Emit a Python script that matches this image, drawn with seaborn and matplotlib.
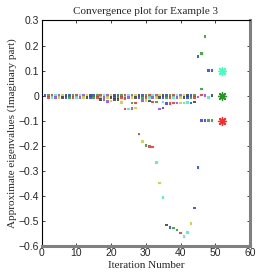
import matplotlib
matplotlib.use('Agg')
import matplotlib.pyplot as plt
import seaborn as sns
import pandas as pd

# colour letters -> rgb used in the picture
palette = {'b': '#2a3cff', 'g': '#22a022', 'r': '#ff2424', 'c': '#3cf0c0',
           'm': '#a03cff', 'y': '#c8d21e', 'k': '#3c3c3c'}

# dots sitting on zero
top_iter = list(range(1, 45))
top_val = [0.0] * 44
top_col = list("bgrcmykbgrcmykbgrcmykbgrcmykbgrcmykbgrcmykbg")

second_iter = list(range(2, 45))
second_val = [-0.007] * 43
second_col = list("rcmykbgrcmykbgrcmykbgrcmykbgrcmykbgrcmykbgr")

# small drift below zero
drift_iter = [17, 18, 19, 20, 21, 22, 23, 24, 24, 25, 26, 26, 27, 27, 29, 30, 31, 32,
              33, 34, 35, 35, 36, 37, 38, 39, 40, 41, 42, 43, 44]
drift_val = [-0.015, -0.018, -0.024, -0.022, -0.016, -0.016, -0.028, -0.053, -0.012,
             -0.053, -0.052, -0.03, -0.05, -0.03, -0.02, -0.02, -0.022, -0.025, -0.025,
             -0.053, -0.05, -0.025, -0.032, -0.032, -0.03, -0.03, -0.03, -0.03, -0.028,
             -0.03, -0.025]
drift_col = list("kgmykkyrrcmgyrmykrgmbcbrrmyccbk")

# branch going down to -0.56
branch_iter = [28, 29, 30, 31, 32, 33, 34, 35, 36, 37, 38, 39, 40, 41, 42, 43, 44, 45]
branch_val = [-0.153, -0.183, -0.2, -0.203, -0.206, -0.267, -0.35, -0.407, -0.517,
              -0.527, -0.53, -0.537, -0.55, -0.563, -0.547, -0.511, -0.449, -0.288]
branch_col = list("rygrrcyckbggrccybb")

# last iterations
late_iter = [45, 46, 47, 46, 48, 49, 46, 47, 48, 49, 45, 46, 47, 48, 49]
late_val = [0.156, 0.167, 0.236, 0.026, 0.1, 0.1, -0.1, -0.1, -0.1, -0.1,
            -0.005, 0.003, 0.0, -0.007, 0.0]
late_col = list("bgggbbbbggmrmck")

# exact eigenvalues
star_x = [52, 52, 52]
star_y = [0.1, 0.0, -0.1]
star_col = ['#40ffc0', '#229a22', '#ff2a2a']

df = pd.DataFrame({
    'it': top_iter + second_iter + drift_iter + branch_iter + late_iter,
    'val': top_val + second_val + drift_val + branch_val + late_val,
    'col': top_col + second_col + drift_col + branch_col + late_col,
})

sns.set_style('ticks')
plt.rcParams['font.family'] = ['Liberation Sans', 'DejaVu Sans']

fig = plt.figure(figsize=(2.77, 2.77), dpi=100)
ax = fig.add_axes([0.1505, 0.113, 0.752, 0.813])

sns.scatterplot(data=df, x='it', y='val', hue='col', palette=palette, legend=False,
                marker='s', s=3.5, linewidth=0, alpha=0.85, ax=ax)
for x, y, c in zip(star_x, star_y, star_col):
    ax.scatter([x], [y], marker=(8, 2, 0), s=32, color=c, linewidths=1.0)

ax.set_xlim(0, 60)
ax.set_ylim(-0.6, 0.3)
ax.set_xticks([0, 10, 20, 30, 40, 50, 60])
ax.set_yticks([0.3, 0.2, 0.1, 0, -0.1, -0.2, -0.3, -0.4, -0.5, -0.6])
ax.set_yticklabels(['0.3', '0.2', '0.1', '0', '\u22120.1', '\u22120.2', '\u22120.3',
                    '\u22120.4', '\u22120.5', '\u22120.6'])
ax.tick_params(direction='in', length=2, width=0.6, labelsize=7.5, top=True, right=True,
               pad=2)
for s in ['left', 'top']:
    ax.spines[s].set_linewidth(0.8)
    ax.spines[s].set_color('black')
for s in ['right', 'bottom']:
    ax.spines[s].set_linewidth(2.2)
    ax.spines[s].set_color('#808080')

serif = ['Liberation Serif', 'DejaVu Serif']
ax.set_title('Convergence plot for Example 3', fontsize=8, family=serif, pad=5)
ax.set_xlabel('Iteration Number', fontsize=8, family=serif, labelpad=2)
ax.set_ylabel('Approximate eigenvalues (Imaginary part)', fontsize=8, family=serif,
              labelpad=1)

fig.savefig('out.png', dpi=100)
